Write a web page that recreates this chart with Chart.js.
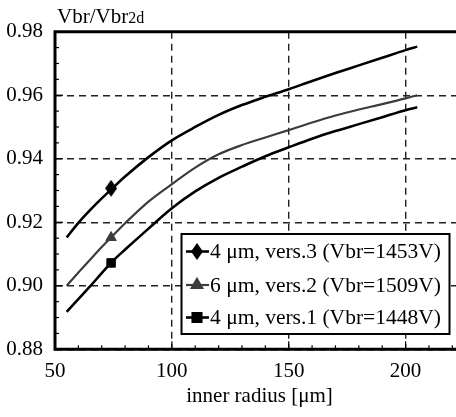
<!DOCTYPE html>
<html><head><meta charset="utf-8">
<script src="https://cdn.jsdelivr.net/npm/chart.js@4.4.1/dist/chart.umd.min.js"></script>
<style>
html,body{margin:0;padding:0;overflow:hidden;background:#fff;width:456px;height:417px}
#wrap{position:absolute;left:0;top:0;width:472px;height:417px}
</style></head>
<body><div id="wrap"><canvas id="c" width="472" height="417"></canvas></div>
<script>
// ---- data ----
const radius = [55,60,65,70,75,80,90,100,110,120,130,140,150,160,170,180,190,200,205];
const vers3 = [0.9152,0.9198,0.9238,0.9275,0.9310,0.9344,0.9405,0.9458,0.9500,0.9538,0.9569,0.9595,0.9619,0.9645,0.9670,0.9694,0.9718,0.9742,0.9753];
const vers2 = [0.9000,0.9042,0.9082,0.9122,0.9160,0.9197,0.9265,0.9320,0.9372,0.9414,0.9443,0.9467,0.9490,0.9514,0.9536,0.9555,0.9572,0.9590,0.9600];
const vers1 = [0.8918,0.8958,0.8998,0.9040,0.9080,0.9114,0.9180,0.9244,0.9297,0.9340,0.9375,0.9408,0.9436,0.9463,0.9487,0.9509,0.9531,0.9553,0.9562];
const markerRadius = 74;
const markerValues = [0.9307, 0.9152, 0.9072];
const seriesLabels = ["4 \u03bcm, vers.3 (Vbr=1453V)", "6 \u03bcm, vers.2 (Vbr=1509V)", "4 \u03bcm, vers.1 (Vbr=1448V)"];
const xTicks = [50,100,150,200];
const yTicks = [0.88,0.90,0.92,0.94,0.96,0.98];

const FONT = '"Liberation Serif", "Times New Roman", serif';

function tallDiamond(){
  const c = document.createElement('canvas'); c.width = 12; c.height = 17;
  const g = c.getContext('2d'); g.fillStyle = '#000';
  g.beginPath(); g.moveTo(6,0); g.lineTo(12,8.5); g.lineTo(6,17); g.lineTo(0,8.5); g.closePath(); g.fill();
  return c;
}
const diamondImg = tallDiamond();

const pts = arr => radius.map((r,i)=>({x:r,y:arr[i]}));
const colors = ['#000000','#3c3c3c','#000000'];
const widths = [2.6,2.2,2.6];
const styles = [diamondImg,'triangle','rect'];
const radii = [7,6,6];
const seriesData = [vers3, vers2, vers1];

const datasets = [];
seriesData.forEach((arr,i)=>{
  datasets.push({label:seriesLabels[i], data:pts(arr), borderColor:colors[i], borderWidth:widths[i],
    pointRadius:0, fill:false, cubicInterpolationMode:'monotone', showLine:true});
});
seriesData.forEach((arr,i)=>{
  datasets.push({label:'m'+i, data:[{x:markerRadius,y:markerValues[i]}], showLine:false,
    pointStyle:styles[i], pointRadius:radii[i], backgroundColor:colors[i], borderColor:colors[i], borderWidth:1});
});

const framePlugin = {
  id:'frame',
  afterDraw(chart){
    const {ctx, chartArea:a, scales:{x,y}} = chart;
    ctx.save();
    // minor ticks
    ctx.strokeStyle = '#000'; ctx.lineWidth = 1.2;
    for(let v=60; v<=220; v+=10){
      const px = x.getPixelForValue(v);
      const len = (v%50===0)?8:4;
      ctx.beginPath(); ctx.moveTo(px,a.bottom); ctx.lineTo(px,a.bottom-len); ctx.stroke();
    }
    for(let k=1;k<20;k++){
      const v = 0.88 + k*0.005;
      const py = y.getPixelForValue(v);
      const len = (k%4===0)?8:4;
      ctx.beginPath(); ctx.moveTo(a.left,py); ctx.lineTo(a.left+len,py); ctx.stroke();
    }
    // frame
    ctx.lineWidth = 3; ctx.strokeStyle = '#000';
    ctx.beginPath();
    ctx.moveTo(a.right+2, a.top); ctx.lineTo(a.left, a.top); ctx.lineTo(a.left, a.bottom); ctx.lineTo(a.right+2, a.bottom);
    ctx.stroke();
    // y title
    ctx.fillStyle = '#000'; ctx.textBaseline = 'alphabetic'; ctx.textAlign = 'left';
    ctx.font = '21px ' + FONT;
    ctx.fillText('Vbr/Vbr', 57, 23);
    const w = ctx.measureText('Vbr/Vbr').width;
    ctx.font = '16px ' + FONT;
    ctx.fillText('2d', 57 + w, 23);
    // legend
    const L = 181.5, T = 234, W = 268, H = 100;
    ctx.fillStyle = '#fff'; ctx.fillRect(L,T,W,H);
    ctx.lineWidth = 2; ctx.strokeStyle = '#000'; ctx.strokeRect(L,T,W,H);
    const rows = [251.5, 285, 317.5];
    rows.forEach((ry,i)=>{
      const ds = chart.data.datasets[i];
      const mk = chart.data.datasets[i+3];
      ctx.strokeStyle = ds.borderColor; ctx.lineWidth = ds.borderWidth;
      ctx.beginPath(); ctx.moveTo(186,ry); ctx.lineTo(209,ry); ctx.stroke();
      if (mk.pointStyle instanceof HTMLCanvasElement){
        ctx.drawImage(mk.pointStyle, 197-6, ry-8.5);
      } else {
        Chart.helpers.drawPoint(ctx,{pointStyle:mk.pointStyle, radius:mk.pointRadius, borderWidth:1, rotation:0}, 197, ry);
        ctx.fillStyle = mk.backgroundColor; ctx.fill();
      }
      ctx.fillStyle = '#000'; ctx.font = '21.5px ' + FONT; ctx.textBaseline='middle'; ctx.textAlign='left';
      ctx.fillText(ds.label, 210, ry+1);
    });
    ctx.restore();
  }
};

new Chart(document.getElementById('c'), {
  type:'scatter',
  data:{datasets},
  options:{
    responsive:false, animation:false, devicePixelRatio:1,
    layout:{padding:{top:31.7,left:0,right:0,bottom:0}},
    plugins:{legend:{display:false}, tooltip:{enabled:false}},
    elements:{line:{tension:0.4}},
    scales:{
      x:{type:'linear', min:50, max:225,
        afterBuildTicks:s=>{ s.ticks = xTicks.map(v=>({value:v})); },
        afterFit:s=>{ s.height = 67.7; },
        ticks:{font:{family:FONT,size:21}, color:'#000', padding:10, maxRotation:0, callback:v=>String(v)},
        grid:{drawTicks:false, color:'#222', lineWidth:1.4},
        border:{display:false, dash:[7,5]},
        title:{display:true, text:'inner radius [\u03bcm]', font:{family:FONT,size:21}, color:'#000', padding:{top:0,bottom:8}}
      },
      y:{type:'linear', min:0.88, max:0.98,
        afterBuildTicks:s=>{ s.ticks = yTicks.map(v=>({value:v})); },
        afterFit:s=>{ s.width = 55; },
        ticks:{font:{family:FONT,size:21}, color:'#000', padding:12, callback:v=>Number(v).toFixed(2)},
        grid:{drawTicks:false, color:'#222', lineWidth:1.4},
        border:{display:false, dash:[7,5]}
      }
    }
  },
  plugins:[framePlugin]
});
</script></body></html>
